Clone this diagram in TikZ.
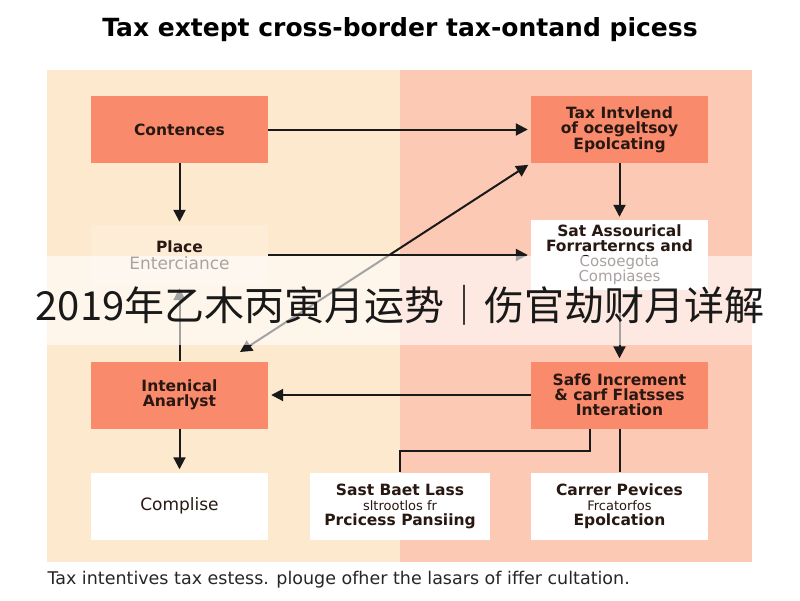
\documentclass[tikz,border=0pt]{standalone}
\usepackage{fontspec}
\setmainfont{DejaVu Sans}
\newfontfamily\cjk{Noto Sans CJK SC}
\usetikzlibrary{arrows.meta}
\definecolor{peach}{RGB}{253,233,205}
\definecolor{blush}{RGB}{252,201,181}
\definecolor{salmon}{RGB}{250,138,108}
\definecolor{ink}{RGB}{40,24,18}

\begin{document}
\begin{tikzpicture}[x=1pt,y=-1pt,>={Triangle[length=12pt,width=12pt]},
    box/.style={minimum width=177pt,minimum height=67pt,inner sep=0pt,align=center,
      text=ink,font=\bfseries\fontsize{15.5}{15}\selectfont},
    salmonbox/.style={box,fill=salmon},
    whitebox/.style={box,fill=white},
    flow/.style={line width=2pt,draw=black!90,shorten >=3pt}]
    \useasboundingbox (0,0) rectangle (800,600);

    % the two panels
    \fill[peach] (47,70) rectangle (400,562);
    \fill[blush] (400,70) rectangle (752,562);

    % title and caption
    \node (title) at (400,30) {\bfseries\fontsize{25}{28}\selectfont Tax extept cross-border tax-ontand picess};
    \node[anchor=west,text=black!85] (caption) at (44,580)
      {\fontsize{17.5}{20}\selectfont Tax intentives tax estess. plouge ofher the lasars of iffer cultation.};

    % boxes of the left column
    \node[salmonbox] (cont) at (179.5,129.5) {Contences};
    \node[box,fill=white,fill opacity=0.2,text opacity=1,minimum height=60pt] (place) at (179.5,255)
      {Place\\[2pt] \mdseries\fontsize{17}{17}\selectfont Enterciance};
    \node[salmonbox] (intan) at (179.5,395) {Intenical\\Anarlyst};
    \node[whitebox,font=\fontsize{17}{17}\selectfont] (compl) at (179.5,506) {Complise};

    % boxes of the right column
    \node[salmonbox] (taxint) at (619.5,129.5) {Tax Intvlend\\of ocegeltsoy\\Epolcating};
    \node[whitebox,minimum height=70pt] (satass) at (619.5,255)
      {Sat Assourical\\Forrarterncs and\\ \mdseries\fontsize{15}{15}\selectfont Cosoegota\\
       \mdseries\fontsize{15}{15}\selectfont Compiases};
    \node[salmonbox] (safe) at (619.5,395) {Saf6 Increment\\\& carf Flatsses\\Interation};
    \node[whitebox] (carrer) at (619.5,506)
      {Carrer Pevices\\{\mdseries\fontsize{13}{15}\selectfont Frcatorfos}\\Epolcation};
    \node[whitebox,minimum width=180pt] (sast) at (400,506)
      {Sast Baet Lass\\{\mdseries\fontsize{13}{15}\selectfont sltrootlos fr}\\Prcicess Pansiing};

    % connectors
    \draw[flow,->] (cont) -- (taxint);
    \draw[flow,->] (cont) -- (place);
    \draw[flow,->] (place) -- (satass);
    \draw[flow,->] (taxint) -- (satass);
    \draw[flow,->] (satass) -- (safe);
    \draw[flow,->] (safe) -- (intan);
    \draw[flow,->] (intan) -- (place);
    \draw[flow,->] (intan) -- (compl);
    \coordinate (diag) at (240,352);
    \draw[flow,<->,shorten <=0pt] (diag) -- (taxint.south west);
    \draw[flow,shorten >=0pt] ([xshift=-30pt]safe.south) -- ++(0,22) -| (sast.north);
    \draw[flow,shorten >=0pt] (safe) -- (carrer);

    % the banner across the middle
    \fill[white,opacity=0.6] (0,256) rectangle (800,345);
    \node[text=black!90] (banner) at (400,305)
      {\cjk\fontsize{40}{44}\selectfont 2019年乙木丙寅月运势｜伤官劫财月详解};
\end{tikzpicture}
\end{document}
